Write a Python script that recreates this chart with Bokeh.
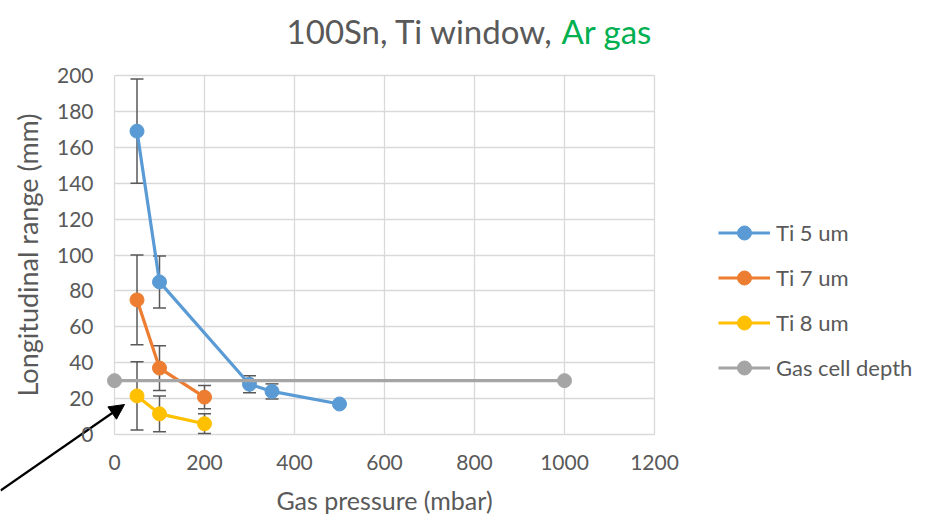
from bokeh.plotting import figure
from bokeh.models import (ColumnDataSource, Whisker, TeeHead, Legend, LegendItem,
                          Label, Arrow, NormalHead, Range1d, FixedTicker)
from bokeh.embed import file_html
from bokeh.resources import INLINE

# ---- data ----
pressure_5 = [50, 100, 300, 350, 500]
range_5 = [169, 85, 28, 24, 17]
err_5 = [29, 14.5, 4.7, 4.2, 0]

pressure_7 = [50, 100, 200]
range_7 = [75, 37, 20.8]
err_7 = [25, 12.5, 6.5]

pressure_8 = [50, 100, 200]
range_8 = [21.5, 11.5, 6]
err_8 = [19, 10, 5.5]

pressure_gas = [0, 1000]
depth_gas = [30, 30]

series_names = ["Ti 5 um", "Ti 7 um", "Ti 8 um", "Gas cell depth"]
x_ticks = [0, 200, 400, 600, 800, 1000, 1200]
y_ticks = [0, 20, 40, 60, 80, 100, 120, 140, 160, 180, 200]

title_main = "100Sn, Ti window,"
title_gas = "Ar gas"
x_label = "Gas pressure (mbar)"
y_label = "Longitudinal range (mm)"

# ---- style ----
FONT = "Lato"
TXT = "#595959"
GRID = "#D9D9D9"
colors = ["#5B9BD5", "#ED7D31", "#FFC000", "#A5A5A5"]

W, H = 933, 519
# pixel position of the plotting area (data 0..1200 x 0..200)
PL, PR, PT, PB = 114, 654, 75, 434
XMIN, XMAX, YMIN, YMAX = x_ticks[0], x_ticks[-1], y_ticks[0], y_ticks[-1]


def px2x(px):
    return XMIN + (px - PL) / (PR - PL) * (XMAX - XMIN)


def py2y(py):
    return YMIN + (PB - py) / (PB - PT) * (YMAX - YMIN)


# the frame fills the whole canvas; axes are pinned inside it
p = figure(width=W, height=H,
           x_range=Range1d(px2x(0), px2x(W)), y_range=Range1d(py2y(H), py2y(0)),
           output_backend="svg", toolbar_location=None,
           min_border_left=0, min_border_right=0, min_border_top=0, min_border_bottom=0)
p.outline_line_color = None
p.background_fill_color = "white"
p.border_fill_color = "white"

p.xaxis.ticker = FixedTicker(ticks=x_ticks)
p.yaxis.ticker = FixedTicker(ticks=y_ticks)
p.xaxis.fixed_location = YMIN
p.yaxis.fixed_location = XMIN
p.xaxis.bounds = (XMIN, XMAX)
p.yaxis.bounds = (YMIN, YMAX)
for ax in (p.xaxis[0], p.yaxis[0]):
    ax.axis_line_color = None
    ax.major_tick_line_color = None
    ax.minor_tick_line_color = None
    ax.major_tick_in = 0
    ax.major_tick_out = 0
    ax.major_label_text_font = FONT
    ax.major_label_text_font_size = "21px"
    ax.major_label_text_color = TXT
    ax.axis_label_text_font = FONT
    ax.axis_label_text_color = TXT
    ax.axis_label_text_font_style = "normal"
    ax.level = "overlay"
p.xaxis.axis_label = x_label
p.yaxis.axis_label = y_label
p.xaxis.axis_label_text_font_size = "25px"
p.yaxis.axis_label_text_font_size = "27px"
p.xaxis.major_label_standoff = 20
p.yaxis.major_label_standoff = 21
p.xaxis.axis_label_standoff = 12
p.yaxis.axis_label_standoff = 10

# grid restricted to the data area
grid_done = False
try:
    p.xgrid.bounds = (XMIN, XMAX)
    p.ygrid.bounds = (YMIN, YMAX)
    p.xgrid.cross_bounds = (YMIN, YMAX)
    p.ygrid.cross_bounds = (XMIN, XMAX)
    p.grid.grid_line_color = GRID
    p.grid.grid_line_width = 1.3
    grid_done = True
except AttributeError:
    pass
if not grid_done:
    p.grid.visible = False
    p.segment(x0=x_ticks, y0=[YMIN] * len(x_ticks), x1=x_ticks, y1=[YMAX] * len(x_ticks),
              line_color=GRID, line_width=1.3)
    p.segment(x0=[XMIN] * len(y_ticks), y0=y_ticks, x1=[XMAX] * len(y_ticks), y1=y_ticks,
              line_color=GRID, line_width=1.3)

series = [(pressure_5, range_5, err_5), (pressure_7, range_7, err_7),
          (pressure_8, range_8, err_8), (pressure_gas, depth_gas, None)]

# error bars
for xs, ys, es in series:
    if es is None:
        continue
    src = ColumnDataSource(dict(x=xs, lo=[y - e for y, e in zip(ys, es)],
                                hi=[y + e for y, e in zip(ys, es)]))
    w = Whisker(base="x", lower="lo", upper="hi", source=src, level="underlay",
                line_color=TXT, line_width=1.5,
                upper_head=TeeHead(size=13, line_color=TXT, line_width=1.5),
                lower_head=TeeHead(size=13, line_color=TXT, line_width=1.5))
    p.add_layout(w)

items = []
for (xs, ys, es), c, name in zip(series, colors, series_names):
    src = ColumnDataSource(dict(x=xs, y=ys))
    ln = p.line("x", "y", source=src, line_color=c, line_width=3.2)
    sc = p.scatter("x", "y", source=src, size=14, fill_color=c, line_color=c)
    items.append(LegendItem(label=name, renderers=[ln, sc]))

legend = Legend(items=items, location=(718, 134), border_line_color=None,
                background_fill_alpha=0, padding=0, margin=0,
                glyph_width=52, glyph_height=35, spacing=10, label_standoff=6,
                label_text_font=FONT, label_text_font_size="22px", label_text_color=TXT)
p.add_layout(legend)

# title in two colours
p.add_layout(Label(x=px2x(553), y=py2y(30), text=title_main, text_align="right",
                   text_baseline="middle", text_font=FONT, text_font_size="33px",
                   text_color=TXT))
p.add_layout(Label(x=px2x(561), y=py2y(30), text=title_gas, text_align="left",
                   text_baseline="middle", text_font=FONT, text_font_size="33px",
                   text_color="#00B050"))

# arrow annotation
p.add_layout(Arrow(x_start=px2x(0), y_start=py2y(490), x_end=px2x(124), y_end=py2y(404),
                   line_color="black", line_width=2.2,
                   end=NormalHead(size=15, fill_color="black", line_color="black")))

open("out.html", "w").write(file_html(p, INLINE))
